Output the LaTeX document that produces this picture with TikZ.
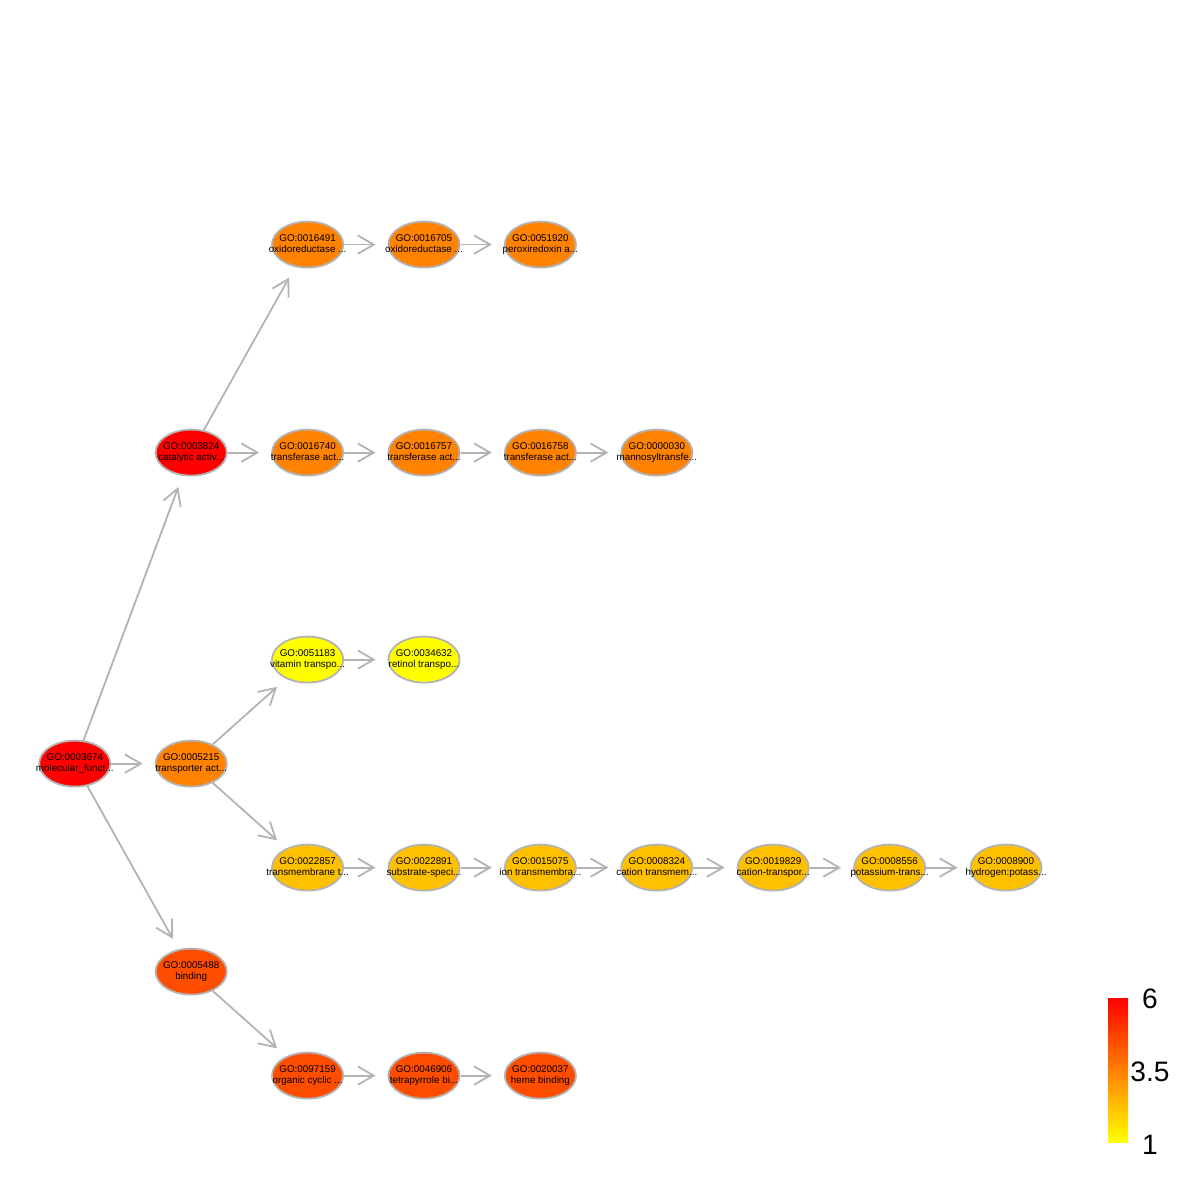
\documentclass[tikz,border=0pt]{standalone}
\usepackage{fontspec}
\setmainfont{Liberation Sans}
\usetikzlibrary{shapes.geometric,positioning,arrows.meta}
\definecolor{edgegray}{RGB}{179,179,179}
\definecolor{gored}{RGB}{255,0,0}
\definecolor{gored2}{RGB}{255,77,0}
\definecolor{goorange}{RGB}{255,130,0}
\definecolor{goamber}{RGB}{255,192,0}
\definecolor{goyellow}{RGB}{255,255,0}
\definecolor{gomid}{RGB}{255,100,0}
\newcommand{\goterm}[2]{\raisebox{-1.5mm}{\makebox[0pt]{\begin{tabular}{@{}c@{}}GO:#1\\#2\end{tabular}}}}

\begin{document}
\begin{tikzpicture}[>={Straight Barb[length=4mm,width=4.6mm]},node distance=26mm and 29.1mm,on grid,
  term/.style={ellipse,draw=edgegray,line width=0.45mm,minimum width=17.8mm,minimum height=11.5mm,inner sep=0pt,font=\fontsize{7}{7.6}\selectfont},
  link/.style={->,draw=edgegray,line width=0.45mm,shorten >=3mm}]
\useasboundingbox (0,0) rectangle (300mm,-300mm);
% root and first level
\node[term,fill=gored](n3674) at (18.7mm,-190.9mm){\goterm{0003674}{molecular\_funct...}};
\node[term,fill=gored](n3824)[above right=77.75mm and 29.1mm of n3674]{\goterm{0003824}{catalytic activ...}};
\node[term,fill=goorange](n5215)[right=of n3674]{\goterm{0005215}{transporter act...}};
\node[term,fill=gored2](n5488)[below right=52mm and 29.1mm of n3674]{\goterm{0005488}{binding}};
% oxidoreductase branch
\node[term,fill=goorange](n16491)[above right=52mm and 29.1mm of n3824]{\goterm{0016491}{oxidoreductase ...}};
\node[term,fill=goorange](n16705)[right=of n16491]{\goterm{0016705}{oxidoreductase ...}};
\node[term,fill=goorange](n51920)[right=of n16705]{\goterm{0051920}{peroxiredoxin a...}};
% transferase branch
\node[term,fill=goorange](n16740)[right=of n3824]{\goterm{0016740}{transferase act...}};
\node[term,fill=goorange](n16757)[right=of n16740]{\goterm{0016757}{transferase act...}};
\node[term,fill=goorange](n16758)[right=of n16757]{\goterm{0016758}{transferase act...}};
\node[term,fill=goorange](n0030)[right=of n16758]{\goterm{0000030}{mannosyltransfe...}};
% vitamin branch
\node[term,fill=goyellow](n51183)[above right=of n5215]{\goterm{0051183}{vitamin transpo...}};
\node[term,fill=goyellow](n34632)[right=of n51183]{\goterm{0034632}{retinol transpo...}};
% transmembrane branch
\node[term,fill=goamber](n22857)[below right=of n5215]{\goterm{0022857}{transmembrane t...}};
\node[term,fill=goamber](n22891)[right=of n22857]{\goterm{0022891}{substrate-speci...}};
\node[term,fill=goamber](n15075)[right=of n22891]{\goterm{0015075}{ion transmembra...}};
\node[term,fill=goamber](n8324)[right=of n15075]{\goterm{0008324}{cation transmem...}};
\node[term,fill=goamber](n19829)[right=of n8324]{\goterm{0019829}{cation-transpor...}};
\node[term,fill=goamber](n8556)[right=of n19829]{\goterm{0008556}{potassium-trans...}};
\node[term,fill=goamber](n8900)[right=of n8556]{\goterm{0008900}{hydrogen:potass...}};
% binding branch
\node[term,fill=gored2](n97159)[below right=of n5488]{\goterm{0097159}{organic cyclic ...}};
\node[term,fill=gored2](n46906)[right=of n97159]{\goterm{0046906}{tetrapyrrole bi...}};
\node[term,fill=gored2](n20037)[right=of n46906]{\goterm{0020037}{heme binding}};
% edges
\path[link] (n3674) edge (n3824) edge (n5215) edge (n5488);
\path[link] (n3824) edge (n16491) edge (n16740);
\path[link] (n5215) edge (n51183) edge (n22857);
\path[link] (n5488) edge (n97159);
\path[link] (n16491) edge (n16705) (n16705) edge (n51920);
\path[link] (n16740) edge (n16757) (n16757) edge (n16758) (n16758) edge (n0030);
\path[link] (n51183) edge (n34632);
\path[link] (n22857) edge (n22891) (n22891) edge (n15075) (n15075) edge (n8324)
  (n8324) edge (n19829) (n19829) edge (n8556) (n8556) edge (n8900);
\path[link] (n97159) edge (n46906) (n46906) edge (n20037);
% colour key
\shade[top color=gored,middle color=gomid,bottom color=goyellow] (277mm,-249.5mm) rectangle (282mm,-285.5mm);
\node[font=\fontsize{20}{24}\selectfont](keytop) at (287.5mm,-249.75mm){6};
\node[font=\fontsize{20}{24}\selectfont](keymid) at (287.5mm,-268mm){3.5};
\node[font=\fontsize{20}{24}\selectfont](keylow) at (287.5mm,-286.25mm){1};
\end{tikzpicture}
\end{document}
